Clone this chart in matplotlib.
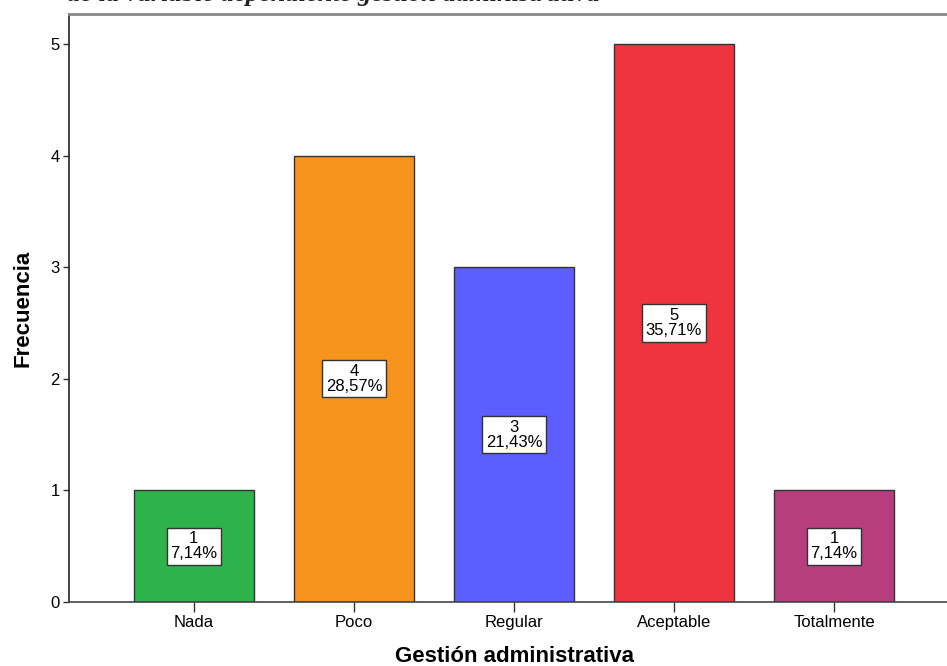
import matplotlib
matplotlib.use("Agg")
import matplotlib.pyplot as plt

categories = ["Nada", "Poco", "Regular", "Aceptable", "Totalmente"]
counts = [1, 4, 3, 5, 1]
colors = ["#2eb34b", "#f7941e", "#5c5eff", "#ef333f", "#b83d7e"]
y_ticks = [0, 1, 2, 3, 4, 5]

total = sum(counts)

plt.rcParams["font.family"] = ["Liberation Sans", "DejaVu Sans"]

fig = plt.figure(figsize=(9.47, 6.66), dpi=100)
ax = fig.add_axes([69 / 947, 64 / 666, 1 - 69 / 947, 588 / 666])

x = list(range(len(categories)))
ax.bar(x, counts, width=0.75, color=colors, edgecolor="#333333", linewidth=1.0, zorder=2)

for xi, c in zip(x, counts):
    pct = f"{c / total * 100:.2f}".replace(".", ",")
    ax.text(xi, c / 2, f"{c}\n{pct}%", ha="center", va="center", fontsize=12,
            linespacing=1.0, color="black", zorder=3,
            bbox=dict(boxstyle="square,pad=0.22", facecolor="white",
                      edgecolor="#333333", linewidth=1.0))

ax.set_xlim(-0.78, 4.706)
ax.set_ylim(0, 5.269)
ax.set_xticks(x)
ax.set_xticklabels(categories, fontsize=12)
for lbl in ax.get_xticklabels():
    lbl.set_verticalalignment("baseline")
ax.set_yticks(y_ticks)
ax.set_yticklabels([str(t) for t in y_ticks], fontsize=12)
ax.tick_params(axis="y", length=4.5, width=1, color="#333333", pad=2)
ax.tick_params(axis="x", length=7, width=1, color="#333333", pad=11)

ax.spines["right"].set_visible(False)
ax.spines["left"].set_color("#222222")
ax.spines["bottom"].set_color("#444444")
ax.spines["left"].set_linewidth(1.2)
ax.spines["bottom"].set_linewidth(1.2)
ax.spines["top"].set_color("#8a8a8a")
ax.spines["top"].set_linewidth(2.0)

ax.set_xlabel("Gestión administrativa", fontsize=16, fontweight="bold", va="baseline")
ax.xaxis.set_label_coords(0.5 + (514 - 508) / 878, -(662 - 602) / 588)
ax.set_ylabel("Frecuencia", fontsize=16, fontweight="bold", labelpad=12)

# caption line above the chart, partly running off the top edge
fig.text(600 / 947, 1 - 1 / 666, "de la variable dependiente gestión administrativa",
         ha="right", va="baseline", fontsize=19, fontstyle="italic", fontweight="bold",
         family=["Liberation Serif"], color="#222222")

fig.savefig("out.png", dpi=100)
